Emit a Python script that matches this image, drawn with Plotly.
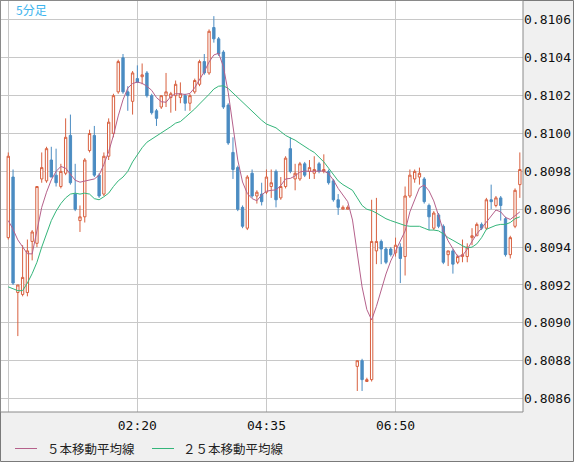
import pandas as pd
import plotly.graph_objects as go

# 5分足 (5-minute candles), 00:05 - 09:00
times = pd.date_range("2024-01-01 00:05", periods=108, freq="5min")

opens = [
    0.80945, 0.80977, 0.80916, 0.80915, 0.80916, 0.80943, 0.80942, 0.80976, 0.80975, 0.80986,
    0.80978, 0.80972, 0.80979, 0.80999, 0.80968, 0.80954, 0.80956, 0.80991, 0.80999, 0.80978,
    0.80968, 0.80988, 0.81000, 0.81022, 0.81040, 0.81022, 0.81017, 0.81029, 0.81030, 0.81032,
    0.81020, 0.81012, 0.81014, 0.81020, 0.81019, 0.81020, 0.81019, 0.81020, 0.81016, 0.81022,
    0.81026, 0.81038, 0.81032, 0.81056, 0.81050, 0.81043, 0.81015, 0.80990, 0.80982, 0.80961,
    0.80950, 0.80979, 0.80967, 0.80968, 0.80969, 0.80972, 0.80980, 0.80966, 0.80972, 0.80992,
    0.80976, 0.80976, 0.80984, 0.80980, 0.80979, 0.80984, 0.80980, 0.80980, 0.80975, 0.80965,
    0.80960, 0.80960, None, 0.80877, 0.80880, 0.80869, 0.80870, 0.80938, 0.80943, 0.80939,
    0.80939, 0.80937, 0.80940, 0.80935, 0.80967, 0.80976, 0.80977, 0.80976, 0.80962, 0.80950,
    0.80957, 0.80951, 0.80936, 0.80938, 0.80932, 0.80935, 0.80935, 0.80945, 0.80946, 0.80952,
    0.80950, 0.80965, 0.80962, 0.80966, 0.80955, 0.80936, 0.80951, 0.80973,
]
highs = [
    0.80990, 0.80981, 0.80920, 0.80941, 0.80944, 0.80949, 0.80972, 0.80990, 0.80993, 0.80993,
    0.80992, 0.80984, 0.81008, 0.81010, 0.80984, 0.80962, 0.80987, 0.81002, 0.81004, 0.80979,
    0.80990, 0.81008, 0.81021, 0.81039, 0.81042, 0.81025, 0.81033, 0.81036, 0.81037, 0.81033,
    0.81021, 0.81013, 0.81020, 0.81032, 0.81022, 0.81028, 0.81027, 0.81021, 0.81021, 0.81029,
    0.81039, 0.81042, 0.81055, 0.81062, 0.81051, 0.81044, 0.81016, 0.80998, 0.80983, 0.80962,
    0.80978, 0.80981, 0.80970, 0.80974, 0.80981, 0.80981, 0.80981, 0.80977, 0.80988, 0.80998,
    0.80984, 0.80985, 0.80985, 0.80986, 0.80988, 0.80985, 0.80989, 0.80981, 0.80976, 0.80968,
    0.80962, 0.80962, None, 0.80880, 0.80881, 0.80871, 0.80965, 0.80966, 0.80944, 0.80940,
    0.80940, 0.80945, 0.80942, 0.80972, 0.80981, 0.80981, 0.80982, 0.80977, 0.80963, 0.80959,
    0.80958, 0.80952, 0.80938, 0.80939, 0.80936, 0.80944, 0.80942, 0.80950, 0.80953, 0.80953,
    0.80966, 0.80973, 0.80967, 0.80967, 0.80956, 0.80946, 0.80971, 0.80990,
]
lows = [
    0.80944, 0.80920, 0.80893, 0.80914, 0.80914, 0.80933, 0.80940, 0.80974, 0.80974, 0.80977,
    0.80972, 0.80971, 0.80978, 0.80973, 0.80959, 0.80948, 0.80953, 0.80990, 0.80977, 0.80966,
    0.80967, 0.80986, 0.80998, 0.81021, 0.81021, 0.81012, 0.81010, 0.81027, 0.81026, 0.81019,
    0.81010, 0.81004, 0.81013, 0.81014, 0.81011, 0.81012, 0.81016, 0.81012, 0.81012, 0.81021,
    0.81025, 0.81031, 0.81031, 0.81048, 0.81041, 0.81013, 0.80994, 0.80976, 0.80959, 0.80950,
    0.80949, 0.80966, 0.80963, 0.80962, 0.80968, 0.80966, 0.80961, 0.80965, 0.80971, 0.80979,
    0.80970, 0.80975, 0.80977, 0.80976, 0.80976, 0.80979, 0.80979, 0.80973, 0.80964, 0.80957,
    0.80960, 0.80960, None, 0.80864, 0.80864, 0.80869, 0.80869, 0.80931, 0.80931, 0.80931,
    0.80935, 0.80935, 0.80921, 0.80925, 0.80966, 0.80974, 0.80973, 0.80963, 0.80949, 0.80949,
    0.80950, 0.80931, 0.80930, 0.80926, 0.80931, 0.80932, 0.80932, 0.80941, 0.80946, 0.80949,
    0.80949, 0.80960, 0.80961, 0.80954, 0.80935, 0.80934, 0.80950, 0.80966,
]
closes = [
    0.80988, 0.80921, 0.80920, 0.80924, 0.80938, 0.80948, 0.80972, 0.80982, 0.80992, 0.80977,
    0.80974, 0.80980, 0.80998, 0.80974, 0.80960, 0.80956, 0.80986, 0.81000, 0.80978, 0.80967,
    0.80988, 0.81006, 0.81020, 0.81038, 0.81022, 0.81020, 0.81032, 0.81027, 0.81031, 0.81020,
    0.81011, 0.81008, 0.81020, 0.81022, 0.81021, 0.81026, 0.81021, 0.81016, 0.81020, 0.81028,
    0.81038, 0.81032, 0.81054, 0.81050, 0.81042, 0.81014, 0.80995, 0.80981, 0.80960, 0.80951,
    0.80977, 0.80967, 0.80969, 0.80964, 0.80977, 0.80974, 0.80965, 0.80972, 0.80987, 0.80980,
    0.80979, 0.80984, 0.80978, 0.80982, 0.80981, 0.80980, 0.80981, 0.80974, 0.80965, 0.80961,
    0.80961, 0.80961, None, 0.80880, 0.80870, 0.80870, 0.80943, 0.80943, 0.80939, 0.80932,
    0.80936, 0.80941, 0.80934, 0.80967, 0.80978, 0.80980, 0.80979, 0.80964, 0.80956, 0.80958,
    0.80951, 0.80932, 0.80938, 0.80931, 0.80935, 0.80936, 0.80940, 0.80946, 0.80952, 0.80950,
    0.80965, 0.80964, 0.80966, 0.80962, 0.80936, 0.80945, 0.80970, 0.80981,
]

ma5 = [
    0.80954, 0.809494, 0.809438, 0.80940, 0.809365, 0.809364, 0.809485, 0.80961, 0.80969, 0.809755,
    0.80980, 0.809826, 0.809817, 0.809786, 0.809753, 0.809743, 0.80975, 0.809755, 0.80976, 0.80978,
    0.809837, 0.809904, 0.80999, 0.810093, 0.810178, 0.81024, 0.810264, 0.810272, 0.810265, 0.81025,
    0.810228, 0.81019, 0.810168, 0.810165, 0.810196, 0.81021, 0.81021, 0.810206, 0.810212, 0.810242,
    0.810282, 0.810327, 0.810378, 0.810415, 0.810424, 0.810353, 0.810218, 0.810028, 0.80986, 0.809744,
    0.809683, 0.809656, 0.809645, 0.809676, 0.809695, 0.80970, 0.809702, 0.809725, 0.80976, 0.809763,
    0.809776, 0.809797, 0.809802, 0.80980, 0.80980, 0.809803, 0.809802, 0.809788, 0.809754, 0.80971,
    0.809676, 0.80964, 0.809543, 0.809369, 0.80919, 0.80907, 0.809015, 0.809087, 0.809176, 0.809258,
    0.809327, 0.80938, 0.80943, 0.809485, 0.809586, 0.80965, 0.809713, 0.809728, 0.809697, 0.809644,
    0.809565, 0.809488, 0.809433, 0.80939, 0.80935, 0.809356, 0.809388, 0.80943, 0.80947, 0.80950,
    0.809533, 0.809563, 0.809596, 0.809586, 0.809557, 0.809546, 0.809565, 0.809586,
]
ma25 = [
    0.80919, 0.80918, 0.80917, 0.80917, 0.80921, 0.80926, 0.80932, 0.80940, 0.809475, 0.80954,
    0.80959, 0.80963, 0.80966, 0.80968, 0.809685, 0.80968, 0.809685, 0.80968, 0.809656, 0.80965,
    0.809666, 0.809685, 0.80972, 0.80975, 0.80977, 0.80980, 0.80985, 0.80989, 0.809925, 0.809954,
    0.80997, 0.809987, 0.810005, 0.81002, 0.810036, 0.810055, 0.810063, 0.810085, 0.810106, 0.81013,
    0.810156, 0.81018, 0.810207, 0.810235, 0.81025, 0.810252, 0.810238, 0.810214, 0.81019, 0.810164,
    0.81014, 0.810117, 0.810095, 0.81007, 0.81005, 0.81004, 0.81003, 0.81001, 0.80999, 0.809977,
    0.809965, 0.809948, 0.80993, 0.809915, 0.80990, 0.809875, 0.80985, 0.809817, 0.80978, 0.80975,
    0.80973, 0.809715, 0.80970, 0.80966, 0.80962, 0.80960, 0.809593, 0.80958, 0.809565, 0.80955,
    0.80954, 0.80953, 0.80952, 0.809514, 0.80951, 0.80951, 0.80951, 0.80950, 0.80949, 0.80949,
    0.809486, 0.80947, 0.80945, 0.809436, 0.80942, 0.809407, 0.809396, 0.80940, 0.809417, 0.80945,
    0.809494, 0.809506, 0.809515, 0.80952, 0.80952, 0.80953, 0.80955, 0.80956,
]

y_ticks = [0.8086, 0.8088, 0.8090, 0.8092, 0.8094, 0.8096, 0.8098, 0.8100, 0.8102, 0.8104, 0.8106]
x_ticks = ["2024-01-01 00:05", "2024-01-01 02:20", "2024-01-01 04:35", "2024-01-01 06:50"]
x_tick_text = ["", "02:20", "04:35", "06:50"]
legend_names = ["５本移動平均線", "２５本移動平均線"]

RED = "#d8603f"
BLUE = "#4b8cc2"
PINK = "#b5618b"
GREEN = "#34b57a"
MONO = "DejaVu Sans Mono"
JP = "Noto Sans CJK JP"

fig = go.Figure()
fig.add_trace(go.Candlestick(
    x=times, open=opens, high=highs, low=lows, close=closes,
    increasing=dict(line=dict(color=RED, width=1), fillcolor="white"),
    decreasing=dict(line=dict(color=BLUE, width=1), fillcolor=BLUE),
    whiskerwidth=0, showlegend=False, hoverinfo="skip",
))
fig.add_trace(go.Scatter(x=times, y=ma25, mode="lines", line=dict(color=GREEN, width=1),
                         showlegend=False, hoverinfo="skip"))
fig.add_trace(go.Scatter(x=times, y=ma5, mode="lines", line=dict(color=PINK, width=1),
                         showlegend=False, hoverinfo="skip"))

W, H = 574, 462
L, R, T, B = 1, 51, 1, 50
pw, ph = W - L - R, H - T - B


def px(x):
    return (x - L) / pw


def py(y):
    return (H - B - y) / ph


shapes = [
    # figure frame
    dict(type="rect", xref="paper", yref="paper", x0=px(0.5), x1=px(573.5), y0=py(461.5), y1=py(0.5),
         line=dict(color="#7a7a7a", width=1)),
    # plot frame
    dict(type="rect", xref="paper", yref="paper", x0=px(0.5), x1=px(523), y0=py(412), y1=py(0.5),
         line=dict(color="#8a8a8a", width=1)),
    dict(type="line", xref="paper", yref="paper", x0=px(15), x1=px(37), y0=py(448.5), y1=py(448.5),
         line=dict(color=PINK, width=1)),
    dict(type="line", xref="paper", yref="paper", x0=px(152), x1=px(174), y0=py(448.5), y1=py(448.5),
         line=dict(color=GREEN, width=1)),
]
annotations = [
    dict(text="5分足", xref="paper", yref="paper", x=px(14), y=py(10), xanchor="left", yanchor="middle",
         showarrow=False, font=dict(family=JP, size=12, color="#3cb4ee")),
    dict(text=legend_names[0], xref="paper", yref="paper", x=px(45), y=py(448.5), xanchor="left",
         yanchor="middle", showarrow=False, font=dict(family=JP, size=12.5, color="#222")),
    dict(text=legend_names[1], xref="paper", yref="paper", x=px(181), y=py(448.5), xanchor="left",
         yanchor="middle", showarrow=False, font=dict(family=JP, size=12.5, color="#222")),
]

fig.update_layout(
    width=W, height=H,
    margin=dict(l=L, r=R, t=T, b=B, pad=0, autoexpand=False),
    paper_bgcolor="#f0f0f0", plot_bgcolor="white",
    shapes=shapes, annotations=annotations,
    xaxis=dict(
        type="date", range=["2023-12-31 23:57:24", "2024-01-01 09:03:18"],
        tickvals=x_ticks, ticktext=x_tick_text, showgrid=True, gridcolor="#c8c8c8", gridwidth=1,
        zeroline=False, showline=False, ticks="", rangeslider=dict(visible=False), automargin=False,
        ticklabelstandoff=4, tickfont=dict(family=MONO, size=13, color="#111"),
    ),
    yaxis=dict(
        side="right", range=[0.808529, 0.810700], tickvals=y_ticks, tickformat=".4f", automargin=False,
        showgrid=True, gridcolor="#c8c8c8", gridwidth=1, zeroline=False, showline=False, ticks="",
        tickfont=dict(family=MONO, size=13, color="#111"),
    ),
)

# page body has a default 8px margin; drop it so the chart sits at the window's corner
fig.write_html("out.html", config={"displayModeBar": False},
               post_script="document.body.style.margin='0';")
